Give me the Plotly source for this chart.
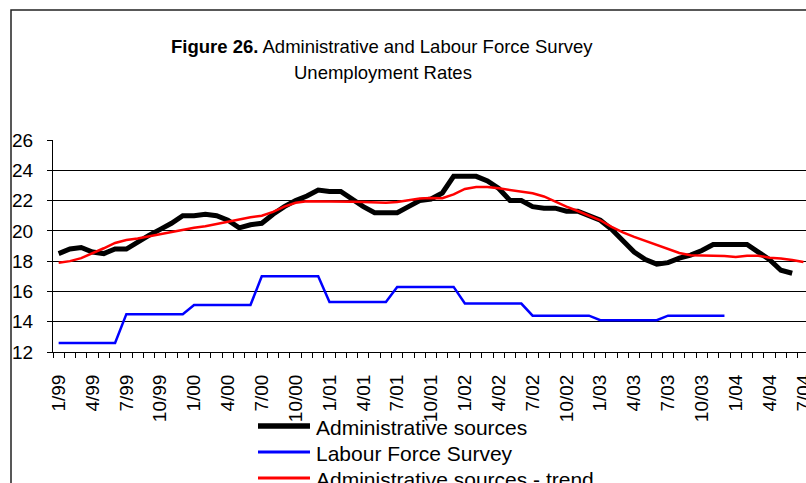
import plotly.graph_objects as go

# ---- data -------------------------------------------------------------
years = ["99", "00", "01", "02", "03", "04"]
months = [f"{m}/{y}" for y in years for m in range(1, 13)][:67]   # 1/99 .. 7/04
tick_labels = ["1/99", "4/99", "7/99", "10/99", "1/00", "4/00", "7/00", "10/00",
               "1/01", "4/01", "7/01", "10/01", "1/02", "4/02", "7/02", "10/02",
               "1/03", "4/03", "7/03", "10/03", "1/04", "4/04", "7/04"]

admin_sources = [
    18.5, 18.8, 18.9, 18.6, 18.5, 18.8, 18.8, 19.3, 19.7, 20.1,
    20.5, 21.0, 21.0, 21.1, 21.0, 20.7, 20.2, 20.4, 20.5, 21.1,
    21.6, 22.0, 22.3, 22.7, 22.6, 22.6, 22.1, 21.6, 21.2, 21.2,
    21.2, 21.6, 22.0, 22.1, 22.5, 23.6, 23.6, 23.6, 23.3, 22.8,
    22.0, 22.0, 21.6, 21.5, 21.5, 21.3, 21.3, 21.0, 20.7, 20.1,
    19.3, 18.6, 18.1, 17.8, 17.9, 18.2, 18.4, 18.7, 19.1, 19.1,
    19.1, 19.1, 18.6, 18.1, 17.4, 17.2,
]

labour_force_survey = [
    12.6, 12.6, 12.6, 12.6, 12.6, 12.6, 14.5, 14.5, 14.5, 14.5,
    14.5, 14.5, 15.1, 15.1, 15.1, 15.1, 15.1, 15.1, 17.0, 17.0,
    17.0, 17.0, 17.0, 17.0, 15.3, 15.3, 15.3, 15.3, 15.3, 15.3,
    16.3, 16.3, 16.3, 16.3, 16.3, 16.3, 15.2, 15.2, 15.2, 15.2,
    15.2, 15.2, 14.4, 14.4, 14.4, 14.4, 14.4, 14.4, 14.1, 14.1,
    14.1, 14.1, 14.1, 14.1, 14.4, 14.4, 14.4, 14.4, 14.4, 14.4,
]

admin_trend = [
    17.90, 18.00, 18.20, 18.50, 18.85, 19.20, 19.40, 19.50, 19.65, 19.80,
    19.95, 20.10, 20.20, 20.30, 20.45, 20.65, 20.80, 20.90, 21.00, 21.25,
    21.60, 21.85, 21.95, 21.95, 21.93, 21.93, 21.93, 21.90, 21.86, 21.86,
    21.90, 22.04, 22.13, 22.17, 22.15, 22.41, 22.77, 22.90, 22.90, 22.81,
    22.70, 22.57, 22.48, 22.27, 21.93, 21.60, 21.31, 21.00, 20.70, 20.26,
    19.90, 19.60, 19.33, 19.11, 18.80, 18.54, 18.39, 18.39, 18.36, 18.34,
    18.27, 18.36, 18.36, 18.23, 18.17, 18.08, 17.94,
]

series_names = ["Administrative sources", "Labour Force Survey",
                "Administrative sources - trend"]
series_colors = ["#000000", "#0000FF", "#FF0000"]
series_widths = [5, 2.5, 2.5]
y_ticks = [12, 14, 16, 18, 20, 22, 24, 26]

# ---- geometry ---------------------------------------------------------
W, H = 806, 483
L, R, T, B = 53, 0, 140, 131
PW, PH = W - L - R, H - T - B
MONTH_PX = 11.285                     # width of one monthly category


def px_x(x):
    return (x - L) / PW


def px_y(y):
    return (H - B - y) / PH


FONT = "Liberation Sans, Arial, Helvetica, sans-serif"
xpos = list(range(len(months)))

fig = go.Figure()
for name, values, color, width in zip(
        series_names, [admin_sources, labour_force_survey, admin_trend],
        series_colors, series_widths):
    fig.add_trace(go.Scatter(
        x=xpos[:len(values)], y=values, name=name, mode="lines",
        line=dict(color=color, width=width),
        hoverinfo="skip",
    ))

fig.update_layout(
    width=W, height=H,
    margin=dict(l=L, r=R, t=T, b=B, autoexpand=False),
    template="none",
    paper_bgcolor="white", plot_bgcolor="white",
    showlegend=False,
    font=dict(family=FONT, color="black"),
)

fig.update_xaxes(
    range=[-0.5, -0.5 + PW / MONTH_PX],
    tickmode="array",
    tickvals=[months.index(t) for t in tick_labels],
    ticktext=tick_labels,
    tickangle=-90,
    ticks="",
    ticklabelstandoff=14,
    ticklabeloverflow="allow",
    tickfont=dict(size=19, family=FONT, color="black"),
    showgrid=False, zeroline=False,
    showline=True, linecolor="black", linewidth=1,
    minor=dict(tickmode="array",
               tickvals=[i - 0.5 for i in range(len(months) + 1)],
               ticks="outside", ticklen=5, tickcolor="black", tickwidth=1,
               showgrid=False),
    automargin=False,
)

fig.update_yaxes(
    range=[12, 26],
    tickmode="array", tickvals=y_ticks, ticktext=[str(v) for v in y_ticks],
    ticks="outside", ticklen=5, tickcolor="black", tickwidth=1,
    ticklabelstandoff=10,
    tickfont=dict(size=19, family=FONT, color="black"),
    showgrid=True, gridcolor="black", gridwidth=1,
    zeroline=False,
    showline=True, linecolor="black", linewidth=1,
    automargin=False,
)

shapes = [
    # chart frame
    dict(type="rect", xref="paper", yref="paper",
         x0=px_x(11), y0=px_y(10), x1=px_x(840), y1=px_y(540),
         line=dict(color="#222222", width=1.5), fillcolor="rgba(0,0,0,0)"),
]
annotations = [
    dict(text="<b>Figure 26.</b> Administrative and Labour Force Survey",
         xref="paper", yref="paper", x=px_x(382), y=px_y(46),
         xanchor="center", yanchor="middle", showarrow=False,
         font=dict(size=18.5, family=FONT, color="black")),
    dict(text="Unemployment Rates",
         xref="paper", yref="paper", x=px_x(383), y=px_y(73),
         xanchor="center", yanchor="middle", showarrow=False,
         font=dict(size=18.5, family=FONT, color="black")),
]

# legend drawn as sample lines with labels beneath the axis
legend_rows = [426, 452, 478]
for name, color, width, row in zip(series_names, series_colors,
                                   series_widths, legend_rows):
    shapes.append(dict(type="line", xref="paper", yref="paper",
                       x0=px_x(258), x1=px_x(310), y0=px_y(row), y1=px_y(row),
                       line=dict(color=color, width=width + 0.5)))
    annotations.append(dict(text=name, xref="paper", yref="paper",
                            x=px_x(314), y=px_y(row + 1),
                            xanchor="left", yanchor="middle", showarrow=False,
                            font=dict(size=21, family=FONT, color="black")))

fig.update_layout(shapes=shapes, annotations=annotations)

fig.write_html("out.html")
